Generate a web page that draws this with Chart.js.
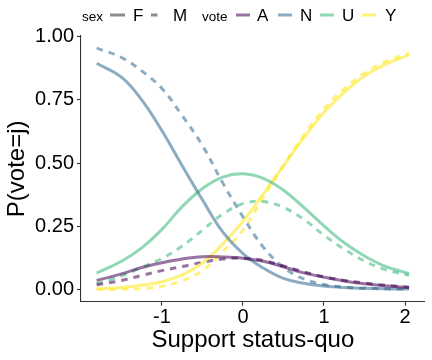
<!DOCTYPE html>
<html><head><meta charset="utf-8">
<script src="https://cdn.jsdelivr.net/npm/chart.js@4"></script>
<style>html,body{margin:0;padding:0;background:#fff;}#wrap{position:relative;width:432px;height:360px;}</style>
</head><body><div id="wrap"><canvas id="c" width="432" height="360"></canvas></div>
<script>
// x grid (Support status-quo)
const xs = [-1.806, -1.5, -1.25, -1, -0.75, -0.5, -0.25, 0, 0.25, 0.5, 0.75, 1, 1.25, 1.5, 1.75, 2.05];
// Female (solid)
const F_A = [0.036, 0.062, 0.087, 0.106, 0.121, 0.130, 0.129, 0.124, 0.112, 0.090, 0.066, 0.049, 0.034, 0.023, 0.015, 0.008];
const F_N = [0.895, 0.840, 0.750, 0.628, 0.490, 0.355, 0.228, 0.142, 0.085, 0.044, 0.025, 0.014, 0.008, 0.005, 0.003, 0.002];
const F_U = [0.065, 0.112, 0.165, 0.238, 0.328, 0.400, 0.445, 0.458, 0.440, 0.393, 0.325, 0.252, 0.185, 0.133, 0.093, 0.063];
const F_Y = [0.003, 0.008, 0.017, 0.031, 0.058, 0.105, 0.180, 0.270, 0.378, 0.490, 0.600, 0.700, 0.780, 0.845, 0.890, 0.928];
// Male (dashed)
const M_A = [0.019, 0.036, 0.056, 0.075, 0.091, 0.108, 0.121, 0.124, 0.115, 0.093, 0.070, 0.050, 0.036, 0.026, 0.017, 0.009];
const M_N = [0.955, 0.918, 0.865, 0.795, 0.688, 0.570, 0.422, 0.288, 0.168, 0.088, 0.042, 0.020, 0.009, 0.005, 0.003, 0.002];
const M_U = [0.023, 0.054, 0.088, 0.123, 0.172, 0.235, 0.298, 0.340, 0.348, 0.325, 0.278, 0.215, 0.160, 0.113, 0.080, 0.056];
const M_Y = [0.001, 0.001, 0.004, 0.013, 0.035, 0.075, 0.150, 0.235, 0.365, 0.490, 0.610, 0.715, 0.795, 0.856, 0.900, 0.935];

const xTicks = [-1, 0, 1, 2];
const yTicks = [0, 0.25, 0.5, 0.75, 1];
const voteLevels = ['A', 'N', 'U', 'Y'];
const sexLevels = ['F', 'M'];

const colors = {A: 'rgba(68,1,84,0.55)', N: 'rgba(49,104,142,0.55)', U: 'rgba(53,183,121,0.55)', Y: 'rgba(253,231,37,0.6)'};
const series = {F: {A: F_A, N: F_N, U: F_U, Y: F_Y}, M: {A: M_A, N: M_N, U: M_U, Y: M_Y}};
const dashM = [6.5, 6];

const datasets = [];
for (const s of sexLevels) {
  for (const v of voteLevels) {
    datasets.push({
      label: v + ' ' + s,
      data: xs.map((x, i) => ({x: x, y: series[s][v][i]})),
      borderColor: colors[v],
      borderWidth: 3,
      borderDash: s === 'M' ? dashM : [],
      pointRadius: 0,
      fill: false,
      tension: 0.4
    });
  }
}

const FONT = "'Liberation Sans', Arial, sans-serif";

const legendPlugin = {
  id: 'keyLegend',
  afterDraw(chart) {
    const ctx = chart.ctx;
    ctx.save();
    ctx.textBaseline = 'alphabetic';
    ctx.fillStyle = '#000';
    const yb = 20.5, yk = 15;
    ctx.font = '13.5px ' + FONT;
    ctx.fillText('sex', 82, yb);
    ctx.fillText('vote', 202, yb);
    ctx.font = '17px ' + FONT;
    const labs = [['F', 133], ['M', 173], ['A', 257], ['N', 300], ['U', 342], ['Y', 385]];
    for (const [t, x] of labs) ctx.fillText(t, x, yb);
    ctx.lineWidth = 3;
    ctx.lineCap = 'butt';
    const key = (x0, x1, col) => { ctx.strokeStyle = col; ctx.beginPath(); ctx.moveTo(x0, yk); ctx.lineTo(x1, yk); ctx.stroke(); };
    key(110, 125, 'rgba(0,0,0,0.45)');
    key(151, 157.5, 'rgba(0,0,0,0.45)');
    key(236, 250, colors.A);
    key(278, 292, colors.N);
    key(320, 334, colors.U);
    key(362, 376, colors.Y);
    ctx.restore();
  }
};

new Chart(document.getElementById('c'), {
  type: 'line',
  data: {datasets: datasets},
  plugins: [legendPlugin],
  options: {
    responsive: false,
    animation: false,
    devicePixelRatio: 1,
    layout: {padding: {top: 36, right: 7.3, left: 0, bottom: 0}},
    plugins: {legend: {display: false}, tooltip: {enabled: false}},
    scales: {
      x: {
        type: 'linear', min: -1.999, max: 2.243,
        afterBuildTicks: s => { s.ticks = xTicks.map(v => ({value: v})); },
        afterFit: s => { s.height = 58.3; },
        ticks: {font: {family: FONT, size: 20}, color: '#000', padding: 0, maxRotation: 0},
        grid: {display: true, drawOnChartArea: false, drawTicks: true, tickLength: 4, tickWidth: 1.1, tickColor: '#333'},
        border: {display: true, color: '#333', width: 1.1},
        title: {display: true, text: 'Support status-quo', font: {family: FONT, size: 24}, color: '#000', padding: {top: 0, bottom: 5.5}}
      },
      y: {
        type: 'linear', min: -0.048, max: 1.003,
        afterBuildTicks: s => { s.ticks = yTicks.map(v => ({value: v})); },
        afterFit: s => { s.width = 81; },
        ticks: {font: {family: FONT, size: 20}, color: '#000', padding: 3, callback: v => Number(v).toFixed(2)},
        grid: {display: true, drawOnChartArea: false, drawTicks: true, tickLength: 4, tickWidth: 1.1, tickColor: '#333'},
        border: {display: true, color: '#333', width: 1.1},
        title: {display: true, text: 'P(vote=j)', font: {family: FONT, size: 24}, color: '#000', padding: {top: 3, bottom: 0}}
      }
    }
  }
});
</script></body></html>
